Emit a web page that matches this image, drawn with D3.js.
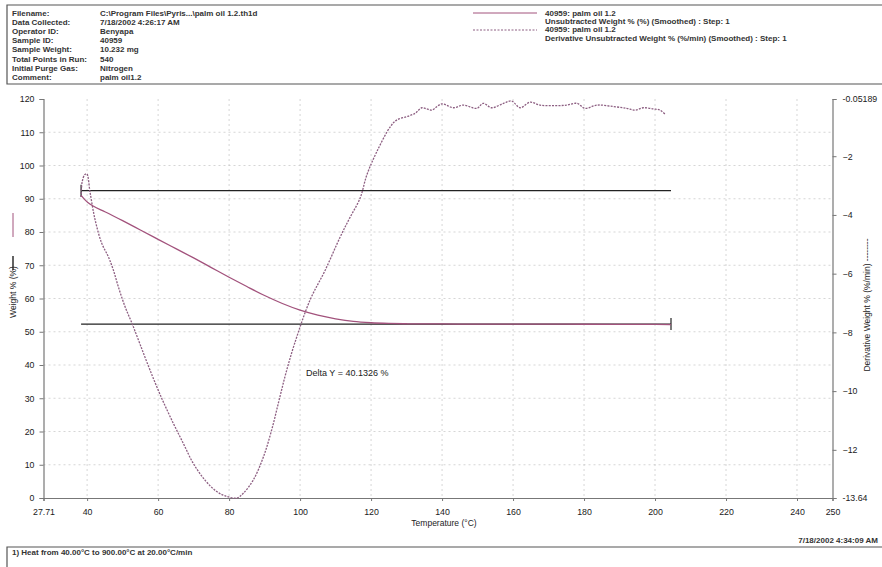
<!DOCTYPE html>
<html>
<head>
<meta charset="utf-8">
<script src="https://cdn.jsdelivr.net/npm/d3@7"></script>
<style>
  body { margin: 0; background: #fff; }
  svg { display: block; font-family: "Liberation Sans", Arial, sans-serif; }
  .axis text { font-size: 8.8px; fill: #1a1a1a; }
  .axis path, .axis line { stroke: #777; }
</style>
</head>
<body>
<svg width="882" height="567"></svg>
<script>
let width = 882, height = 567;

// header info
let infoLabels = ["Filename:", "Data Collected:", "Operator ID:", "Sample ID:", "Sample Weight:",
    "Total Points in Run:", "Initial Purge Gas:", "Comment:"];
let infoValues = ["C:\\Program Files\\Pyris...\\palm oil 1.2.th1d", "7/18/2002 4:26:17 AM", "Benyapa",
    "40959", "10.232 mg", "540", "Nitrogen", "palm oil1.2"];
let legendLines = ["40959: palm oil 1.2", "Unsubtracted Weight % (%) (Smoothed) : Step: 1",
    "40959: palm oil 1.2", "Derivative Unsubtracted Weight % (%/min) (Smoothed) : Step: 1"];

// axis ticks
let xTicks = [27.71, 40, 60, 80, 100, 120, 140, 160, 180, 200, 220, 240, 250];
let xGrid = [40, 60, 80, 100, 120, 140, 160, 180, 200, 220, 240];
let yTicks = [0, 10, 20, 30, 40, 50, 60, 70, 80, 90, 100, 110, 120];
let rTicks = [-13.64, -12, -10, -8, -6, -4, -2, -0.05189];

// weight % curve (temperature, weight)
let weightT = [38.3, 39.2, 40.2, 41.7, 45, 50, 55, 60, 65, 70, 75, 80, 85, 90, 95,
    100, 105, 110, 115, 120, 125, 130, 140, 150, 160, 180, 200, 204.5];
let weightV = [91.0, 89.9, 88.9, 87.8, 86.1, 83.4, 80.6, 77.8, 75.0, 72.2, 69.3, 66.4, 63.6, 60.9, 58.5,
    56.5, 55.0, 53.9, 53.1, 52.7, 52.5, 52.4, 52.35, 52.3, 52.3, 52.25, 52.2, 52.15];

// derivative curve (temperature, %/min)
let derivT = [38.3, 38.6, 39.3, 39.9, 40.85, 42.25, 44.1, 46.0, 47.4, 48.8, 50.7, 52.6, 54.9, 57.7,
    61.0, 64.3, 67.1, 69.9, 73.2, 76.5, 79.4, 82.2, 84.0, 86.8, 89.7, 92.0, 94.1, 96.0, 98.4,
    102.8, 107.0, 111.3, 114.0, 116.9, 118.8, 121.6, 125.4, 127.2, 130.1, 132.4, 134.3, 135.7,
    137.1, 139.9, 143.2, 146.0, 149.8, 151.6, 154.0, 157.3, 159.6, 162.0, 164.8, 167.6, 171.4,
    175.1, 178.0, 180.3, 183.6, 188.3, 192.0, 194.4, 196.7, 199.5, 201.4, 202.8];
let derivV = [-3.39, -2.88, -2.63, -2.60, -3.25, -4.17, -4.96, -5.43, -5.88, -6.45, -7.13, -7.68, -8.40, -9.28,
    -10.24, -11.10, -11.78, -12.46, -13.03, -13.42, -13.59, -13.64, -13.48, -13.03, -12.23, -11.32, -10.30, -9.39, -8.40,
    -6.90, -5.90, -4.75, -4.10, -3.43, -2.64, -1.85, -1.0, -0.77, -0.65, -0.54, -0.35, -0.39,
    -0.43, -0.22, -0.35, -0.26, -0.37, -0.20, -0.35, -0.20, -0.12, -0.35, -0.16, -0.26, -0.28,
    -0.26, -0.20, -0.37, -0.26, -0.31, -0.37, -0.43, -0.35, -0.39, -0.43, -0.57];

// step analysis
let stepTop = 92.43, stepBottom = 52.30, stepFrom = 38.3, stepTo = 204.5;
let deltaText = "Delta Y = 40.1326 %";

let svg = d3.select("svg");

let x = d3.scaleLinear().domain([27.71, 250]).range([43.5, 832.5]);
let yL = d3.scaleLinear().domain([0, 120]).range([498, 99]);
let yR = d3.scaleLinear().domain([-13.64, -0.05189]).range([498, 99]);

let curveColor = "#a2527c";
let derivColor = "#8d5f82";

// header box
let hdr = svg.append("g");
hdr.append("path")
    .attr("d", "M882,5 H7 V84 H882")
    .attr("fill", "none").attr("stroke", "#555").attr("stroke-width", 1.2);

hdr.selectAll(".lab").data(infoLabels).enter().append("text")
    .attr("x", 12).attr("y", (d, i) => 15.5 + i * 9.2)
    .attr("font-size", 8).attr("font-weight", "bold").attr("fill", "#333")
    .text(d => d);
hdr.selectAll(".val").data(infoValues).enter().append("text")
    .attr("x", 100).attr("y", (d, i) => 15.5 + i * 9.2)
    .attr("font-size", 8).attr("font-weight", "bold").attr("fill", "#333")
    .text(d => d);

hdr.selectAll(".leg").data(legendLines).enter().append("text")
    .attr("x", 545).attr("y", (d, i) => 15.5 + i * 8.4)
    .attr("font-size", 8).attr("font-weight", "bold").attr("fill", "#333")
    .text(d => d);
hdr.append("line").attr("x1", 473).attr("x2", 537).attr("y1", 13).attr("y2", 13)
    .attr("stroke", curveColor).attr("stroke-width", 1);
hdr.append("line").attr("x1", 473).attr("x2", 537).attr("y1", 30).attr("y2", 30)
    .attr("stroke", derivColor).attr("stroke-width", 1).attr("stroke-dasharray", "2,1.5");

// grid
let grid = svg.append("g").attr("stroke", "#c4c4c4").attr("stroke-width", 0.7).attr("stroke-dasharray", "2,3");
grid.selectAll(".gx").data(xGrid).enter().append("line")
    .attr("x1", d => x(d)).attr("x2", d => x(d)).attr("y1", yL(120)).attr("y2", yL(0));
grid.selectAll(".gy").data(yTicks.filter(d => d > 0 && d < 120)).enter().append("line")
    .attr("x1", x(27.71)).attr("x2", x(250)).attr("y1", d => yL(d)).attr("y2", d => yL(d));

// axes
svg.append("g").attr("class", "axis")
    .attr("transform", "translate(0," + yL(0) + ")")
    .call(d3.axisBottom(x).tickValues(xTicks).tickSize(3).tickPadding(8)
        .tickFormat(d => d === 27.71 ? "27.71" : d3.format("d")(d)));

svg.append("g").attr("class", "axis")
    .attr("transform", "translate(" + x(27.71) + ",0)")
    .call(d3.axisLeft(yL).tickValues(yTicks).tickSize(4).tickPadding(5).tickFormat(d3.format("d")));

svg.append("g").attr("class", "axis")
    .attr("transform", "translate(" + x(250) + ",0)")
    .call(d3.axisRight(yR).tickValues(rTicks).tickSize(4).tickPadding(6)
        .tickFormat(d => (d === -13.64 || d === -0.05189) ? String(d) : d3.format("d")(d)));

svg.selectAll(".axis .domain").attr("stroke-width", 1.2);

// axis titles
svg.append("text")
    .attr("x", 444).attr("y", 526)
    .attr("text-anchor", "middle").attr("font-size", 8.5).attr("fill", "#222")
    .text("Temperature (°C)");

svg.append("text")
    .attr("transform", "translate(16,292) rotate(-90)")
    .attr("text-anchor", "middle").attr("font-size", 8.5).attr("fill", "#222")
    .text("Weight % (%)");
svg.append("line").attr("x1", 13).attr("x2", 13).attr("y1", 270).attr("y2", 256)
    .attr("stroke", "#222").attr("stroke-width", 1.4);
svg.append("line").attr("x1", 13).attr("x2", 13).attr("y1", 237).attr("y2", 213)
    .attr("stroke", curveColor).attr("stroke-width", 1);

svg.append("text")
    .attr("transform", "translate(870,305) rotate(-90)")
    .attr("text-anchor", "middle").attr("font-size", 8.5).attr("fill", "#222")
    .text("Derivative Weight % (%/min) --------");

// step lines
let step = svg.append("g").attr("stroke", "#222").attr("stroke-width", 1.2);
step.append("line").attr("x1", x(stepFrom)).attr("x2", x(stepTo))
    .attr("y1", yL(stepTop)).attr("y2", yL(stepTop));
step.append("line").attr("x1", x(stepFrom)).attr("x2", x(stepFrom))
    .attr("y1", yL(stepTop) - 6).attr("y2", yL(stepTop) + 6);
step.append("line").attr("x1", x(stepFrom)).attr("x2", x(stepTo))
    .attr("y1", yL(stepBottom)).attr("y2", yL(stepBottom));
step.append("line").attr("x1", x(stepTo)).attr("x2", x(stepTo))
    .attr("y1", yL(stepBottom) - 6).attr("y2", yL(stepBottom) + 6);

svg.append("text")
    .attr("x", 306).attr("y", 376)
    .attr("font-size", 9).attr("fill", "#222")
    .text(deltaText);

// curves
let weightData = weightT.map((t, i) => [t, weightV[i]]);
let derivData = derivT.map((t, i) => [t, derivV[i]]);

svg.append("path")
    .datum(derivData)
    .attr("fill", "none").attr("stroke", derivColor).attr("stroke-width", 1.3)
    .attr("stroke-dasharray", "2,1.2")
    .attr("d", d3.line().x(d => x(d[0])).y(d => yR(d[1])).curve(d3.curveCatmullRom));

svg.append("path")
    .datum(weightData)
    .attr("fill", "none").attr("stroke", curveColor).attr("stroke-width", 1.3)
    .attr("d", d3.line().x(d => x(d[0])).y(d => yL(d[1])).curve(d3.curveMonotoneX));

// footer
svg.append("path")
    .attr("d", "M882,547 H7 V567")
    .attr("fill", "none").attr("stroke", "#555").attr("stroke-width", 1.2);
svg.append("text")
    .attr("x", 12).attr("y", 555)
    .attr("font-size", 8).attr("font-weight", "bold").attr("fill", "#333")
    .text("1)  Heat from 40.00°C to 900.00°C at 20.00°C/min");
svg.append("text")
    .attr("x", 878).attr("y", 543).attr("text-anchor", "end")
    .attr("font-size", 8).attr("font-weight", "bold").attr("fill", "#333")
    .text("7/18/2002 4:34:09 AM");
</script>
</body>
</html>
